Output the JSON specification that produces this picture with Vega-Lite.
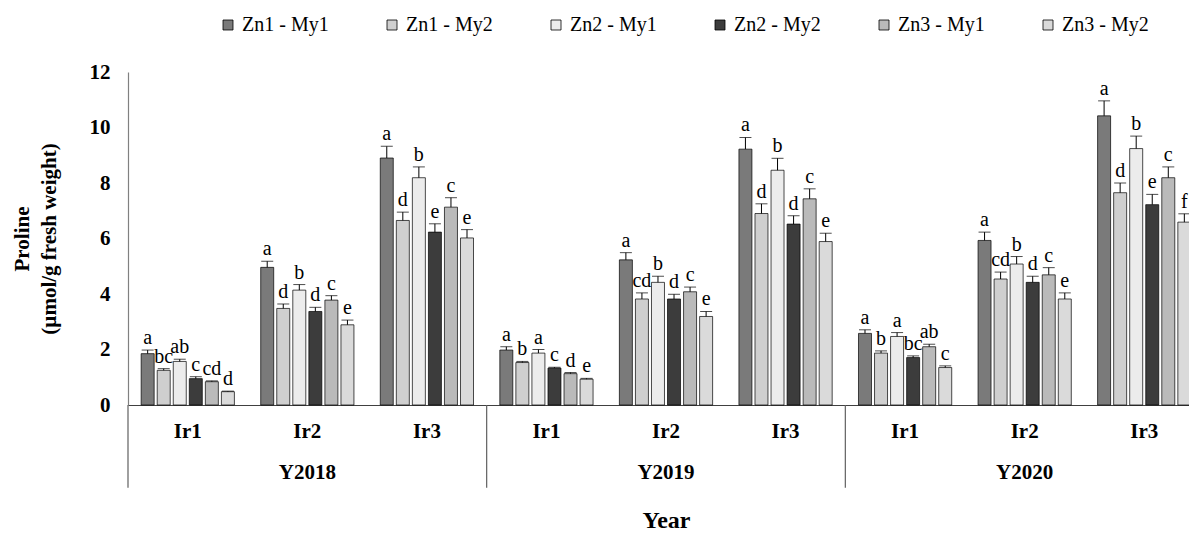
{
  "$schema": "https://vega.github.io/schema/vega-lite/v6.json",
  "autosize": "none",
  "width": 1061,
  "height": 333,
  "padding": {"left": 128, "top": 72, "right": 0, "bottom": 133},
  "background": "white",
  "config": {
    "view": {"stroke": null},
    "font": "Liberation Serif",
    "text": {"font": "Liberation Serif"}
  },
  "data": {
    "values": [
      {"g": "Y2018 Ir1", "s": "Zn1 - My1", "v": 1.85, "u": 1.98, "l": "a"},
      {"g": "Y2018 Ir1", "s": "Zn1 - My2", "v": 1.25, "u": 1.31, "l": "bc"},
      {"g": "Y2018 Ir1", "s": "Zn2 - My1", "v": 1.57, "u": 1.65, "l": "ab"},
      {"g": "Y2018 Ir1", "s": "Zn2 - My2", "v": 0.95, "u": 1.02, "l": "c"},
      {"g": "Y2018 Ir1", "s": "Zn3 - My1", "v": 0.84, "u": 0.87, "l": "cd"},
      {"g": "Y2018 Ir1", "s": "Zn3 - My2", "v": 0.48, "u": 0.5, "l": "d"},
      {"g": "Y2018 Ir2", "s": "Zn1 - My1", "v": 4.96, "u": 5.18, "l": "a"},
      {"g": "Y2018 Ir2", "s": "Zn1 - My2", "v": 3.48, "u": 3.64, "l": "d"},
      {"g": "Y2018 Ir2", "s": "Zn2 - My1", "v": 4.14, "u": 4.34, "l": "b"},
      {"g": "Y2018 Ir2", "s": "Zn2 - My2", "v": 3.37, "u": 3.52, "l": "d"},
      {"g": "Y2018 Ir2", "s": "Zn3 - My1", "v": 3.78, "u": 3.94, "l": "c"},
      {"g": "Y2018 Ir2", "s": "Zn3 - My2", "v": 2.89, "u": 3.06, "l": "e"},
      {"g": "Y2018 Ir3", "s": "Zn1 - My1", "v": 8.9, "u": 9.32, "l": "a"},
      {"g": "Y2018 Ir3", "s": "Zn1 - My2", "v": 6.65, "u": 6.95, "l": "d"},
      {"g": "Y2018 Ir3", "s": "Zn2 - My1", "v": 8.19, "u": 8.58, "l": "b"},
      {"g": "Y2018 Ir3", "s": "Zn2 - My2", "v": 6.23, "u": 6.53, "l": "e"},
      {"g": "Y2018 Ir3", "s": "Zn3 - My1", "v": 7.13, "u": 7.47, "l": "c"},
      {"g": "Y2018 Ir3", "s": "Zn3 - My2", "v": 6.02, "u": 6.32, "l": "e"},
      {"g": "Y2019 Ir1", "s": "Zn1 - My1", "v": 1.98, "u": 2.1, "l": "a"},
      {"g": "Y2019 Ir1", "s": "Zn1 - My2", "v": 1.53, "u": 1.57, "l": "b"},
      {"g": "Y2019 Ir1", "s": "Zn2 - My1", "v": 1.87, "u": 2.0, "l": "a"},
      {"g": "Y2019 Ir1", "s": "Zn2 - My2", "v": 1.33, "u": 1.36, "l": "c"},
      {"g": "Y2019 Ir1", "s": "Zn3 - My1", "v": 1.13, "u": 1.17, "l": "d"},
      {"g": "Y2019 Ir1", "s": "Zn3 - My2", "v": 0.93, "u": 0.96, "l": "e"},
      {"g": "Y2019 Ir2", "s": "Zn1 - My1", "v": 5.23, "u": 5.49, "l": "a"},
      {"g": "Y2019 Ir2", "s": "Zn1 - My2", "v": 3.82, "u": 4.04, "l": "cd"},
      {"g": "Y2019 Ir2", "s": "Zn2 - My1", "v": 4.42, "u": 4.64, "l": "b"},
      {"g": "Y2019 Ir2", "s": "Zn2 - My2", "v": 3.82, "u": 3.99, "l": "d"},
      {"g": "Y2019 Ir2", "s": "Zn3 - My1", "v": 4.08, "u": 4.25, "l": "c"},
      {"g": "Y2019 Ir2", "s": "Zn3 - My2", "v": 3.19, "u": 3.37, "l": "e"},
      {"g": "Y2019 Ir3", "s": "Zn1 - My1", "v": 9.22, "u": 9.64, "l": "a"},
      {"g": "Y2019 Ir3", "s": "Zn1 - My2", "v": 6.9, "u": 7.25, "l": "d"},
      {"g": "Y2019 Ir3", "s": "Zn2 - My1", "v": 8.46, "u": 8.89, "l": "b"},
      {"g": "Y2019 Ir3", "s": "Zn2 - My2", "v": 6.52, "u": 6.82, "l": "d"},
      {"g": "Y2019 Ir3", "s": "Zn3 - My1", "v": 7.43, "u": 7.79, "l": "c"},
      {"g": "Y2019 Ir3", "s": "Zn3 - My2", "v": 5.89, "u": 6.19, "l": "e"},
      {"g": "Y2020 Ir1", "s": "Zn1 - My1", "v": 2.58, "u": 2.71, "l": "a"},
      {"g": "Y2020 Ir1", "s": "Zn1 - My2", "v": 1.87, "u": 1.95, "l": "b"},
      {"g": "Y2020 Ir1", "s": "Zn2 - My1", "v": 2.47, "u": 2.61, "l": "a"},
      {"g": "Y2020 Ir1", "s": "Zn2 - My2", "v": 1.71, "u": 1.77, "l": "bc"},
      {"g": "Y2020 Ir1", "s": "Zn3 - My1", "v": 2.1, "u": 2.19, "l": "ab"},
      {"g": "Y2020 Ir1", "s": "Zn3 - My2", "v": 1.35, "u": 1.41, "l": "c"},
      {"g": "Y2020 Ir2", "s": "Zn1 - My1", "v": 5.93, "u": 6.23, "l": "a"},
      {"g": "Y2020 Ir2", "s": "Zn1 - My2", "v": 4.54, "u": 4.79, "l": "cd"},
      {"g": "Y2020 Ir2", "s": "Zn2 - My1", "v": 5.08, "u": 5.35, "l": "b"},
      {"g": "Y2020 Ir2", "s": "Zn2 - My2", "v": 4.42, "u": 4.64, "l": "d"},
      {"g": "Y2020 Ir2", "s": "Zn3 - My1", "v": 4.69, "u": 4.95, "l": "c"},
      {"g": "Y2020 Ir2", "s": "Zn3 - My2", "v": 3.82, "u": 4.04, "l": "e"},
      {"g": "Y2020 Ir3", "s": "Zn1 - My1", "v": 10.42, "u": 10.96, "l": "a"},
      {"g": "Y2020 Ir3", "s": "Zn1 - My2", "v": 7.65, "u": 8.0, "l": "d"},
      {"g": "Y2020 Ir3", "s": "Zn2 - My1", "v": 9.24, "u": 9.69, "l": "b"},
      {"g": "Y2020 Ir3", "s": "Zn2 - My2", "v": 7.22, "u": 7.59, "l": "e"},
      {"g": "Y2020 Ir3", "s": "Zn3 - My1", "v": 8.19, "u": 8.58, "l": "c"},
      {"g": "Y2020 Ir3", "s": "Zn3 - My2", "v": 6.59, "u": 6.89, "l": "f"}
    ]
  },
  "encoding": {
    "x": {
      "field": "g",
      "type": "nominal",
      "sort": null,
      "scale": {"range": [0, 1076], "paddingInner": 0, "paddingOuter": 0},
      "axis": {
        "title": "Year",
        "titleFont": "Liberation Serif",
        "titleFontSize": 24,
        "titleFontWeight": "bold",
        "titleColor": "black",
        "titlePadding": 26,
        "labelAngle": 0,
        "labelFont": "Liberation Serif",
        "labelFontSize": 21,
        "labelFontWeight": "bold",
        "labelColor": "black",
        "labelBaseline": "top",
        "labelPadding": 15,
        "labelLineHeight": 41,
        "labelExpr": "split(datum.value, ' ')[1] == 'Ir2' ? [split(datum.value, ' ')[1], split(datum.value, ' ')[0]] : split(datum.value, ' ')[1]",
        "ticks": false,
        "domainColor": "#404040",
        "domainWidth": 1.2
      }
    },
    "y": {
      "type": "quantitative",
      "scale": {"domain": [0, 12], "nice": false, "zero": true},
      "axis": {
        "title": ["Proline", "(µmol/g fresh weight)"],
        "titleFont": "Liberation Serif",
        "titleFontSize": 21,
        "titleFontWeight": "bold",
        "titleColor": "black",
        "titleLineHeight": 27,
        "titlePadding": 30,
        "values": [0, 2, 4, 6, 8, 10, 12],
        "labelFont": "Liberation Serif",
        "labelFontSize": 21,
        "labelFontWeight": "bold",
        "labelColor": "black",
        "labelPadding": 18,
        "ticks": false,
        "grid": false,
        "domainColor": "#808080",
        "domainWidth": 1.2
      }
    }
  },
  "layer": [
    {
      "mark": {"type": "bar", "stroke": "black", "strokeWidth": 0.7},
      "encoding": {
        "xOffset": {"field": "s", "type": "nominal", "sort": null, "scale": {"paddingInner": 0.19, "paddingOuter": 0.82}},
        "y": {"field": "v", "type": "quantitative"},
        "fill": {
          "field": "s",
          "type": "nominal",
          "sort": null,
          "scale": {"range": ["#7a7a7a", "#cfcfcf", "#ececec", "#3c3c3c", "#bababa", "#dadada"]},
          "legend": {
            "title": null,
            "orient": "none",
            "legendX": 90,
            "legendY": -57,
            "direction": "horizontal",
            "columns": 6,
            "columnPadding": 53,
            "symbolType": "square",
            "symbolSize": 100,
            "symbolStrokeColor": "black",
            "symbolStrokeWidth": 0.8,
            "symbolOpacity": 1,
            "labelFont": "Liberation Serif",
            "labelFontSize": 20,
            "labelColor": "black",
            "labelOffset": 4
          }
        }
      }
    },
    {
      "mark": {"type": "rule", "color": "black", "strokeWidth": 1},
      "encoding": {
        "xOffset": {"field": "s", "type": "nominal", "sort": null},
        "y": {"field": "v", "type": "quantitative"},
        "y2": {"field": "u"}
      }
    },
    {
      "mark": {"type": "tick", "color": "black", "size": 12, "thickness": 1},
      "encoding": {
        "xOffset": {"field": "s", "type": "nominal", "sort": null},
        "y": {"field": "u", "type": "quantitative"}
      }
    },
    {
      "mark": {"type": "text", "font": "Liberation Serif", "fontSize": 20, "color": "black", "baseline": "alphabetic", "dy": -6},
      "encoding": {
        "xOffset": {"field": "s", "type": "nominal", "sort": null},
        "y": {"field": "u", "type": "quantitative"},
        "text": {"field": "l"}
      }
    },
    {
      "transform": [{"filter": "datum.s == 'Zn1 - My1' && indexof(datum.g, 'Ir1') >= 0"}],
      "mark": {"type": "rule", "color": "#606060", "strokeWidth": 1.2},
      "encoding": {
        "x": {"field": "g", "type": "nominal", "sort": null, "bandPosition": 0},
        "y": {"datum": 0},
        "y2": {"datum": -2.98}
      }
    }
  ]
}
